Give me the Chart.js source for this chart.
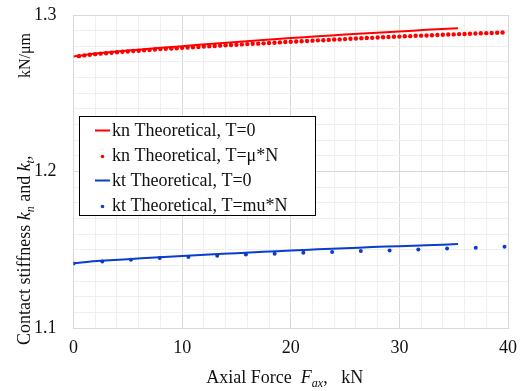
<!DOCTYPE html>
<html>
<head>
<meta charset="utf-8">
<script src="https://cdn.jsdelivr.net/npm/chart.js@4.4.1/dist/chart.umd.min.js"></script>
<style>
  html, body { margin: 0; padding: 0; background: #fff; }
  #stiff { display: block; }
</style>
</head>
<body>
<canvas id="stiff" width="523" height="391"></canvas>
<script>
// axial force for the theoretical curves (kN)
const forceLine = [0, 1, 2.5, 5, 7.5, 10, 12.5, 15, 17.5, 20, 22.5, 25, 27.5, 30, 32.5, 35.4];
const knLine = [1.2735, 1.2745, 1.2757, 1.2773, 1.2787, 1.2801, 1.2815, 1.2828, 1.2841, 1.2853, 1.2864, 1.2875, 1.2885, 1.2895, 1.2905, 1.2916];
const ktLine = [1.1412, 1.1420, 1.1429, 1.1440, 1.1450, 1.1460, 1.1470, 1.1478, 1.1487, 1.1495, 1.1503, 1.1510, 1.1517, 1.1523, 1.1529, 1.1536];

// kn with T=mu*N, dotted
const forceKnDots = [0.5, 1, 1.5, 2, 2.5, 3, 3.5, 4, 4.5, 5, 5.5, 6, 6.5, 7, 7.5, 8, 8.5, 9, 9.5, 10,
  10.5, 11, 11.5, 12, 12.5, 13, 13.5, 14, 14.5, 15, 15.5, 16, 16.5, 17, 17.5, 18, 18.5, 19, 19.5, 20,
  20.5, 21, 21.5, 22, 22.5, 23, 23.5, 24, 24.5, 25, 25.5, 26, 26.5, 27, 27.5, 28, 28.5, 29, 29.5, 30,
  30.5, 31, 31.5, 32, 32.5, 33, 33.5, 34, 34.5, 35, 35.5, 36, 36.5, 37, 37.5, 38, 38.5, 39, 39.5];
const knDots = [1.2737, 1.2742, 1.2746, 1.2750, 1.2753, 1.2756, 1.2759, 1.2762, 1.2765, 1.2767,
  1.2770, 1.2772, 1.2775, 1.2777, 1.2780, 1.2782, 1.2784, 1.2786, 1.2788, 1.2790,
  1.2792, 1.2794, 1.2796, 1.2798, 1.2800, 1.2802, 1.2804, 1.2806, 1.2808, 1.2810,
  1.2812, 1.2814, 1.2816, 1.2817, 1.2819, 1.2821, 1.2823, 1.2825, 1.2827, 1.2829,
  1.2831, 1.2832, 1.2834, 1.2836, 1.2838, 1.2839, 1.2841, 1.2843, 1.2844, 1.2846,
  1.2848, 1.2850, 1.2851, 1.2853, 1.2854, 1.2856, 1.2858, 1.2859, 1.2861, 1.2862,
  1.2864, 1.2865, 1.2867, 1.2868, 1.2869, 1.2871, 1.2872, 1.2874, 1.2875, 1.2876,
  1.2878, 1.2879, 1.2880, 1.2882, 1.2883, 1.2884, 1.2885, 1.2887, 1.2888];

// kt with T=mu*N, dotted
const forceKtDots = [0, 2.65, 5.29, 7.94, 10.58, 13.23, 15.87, 18.52, 21.16, 23.81, 26.45, 29.1, 31.74, 34.39, 37.03, 39.68];
const ktDots = [1.1412, 1.1425, 1.1436, 1.1447, 1.1453, 1.1462, 1.1470, 1.1474, 1.1481, 1.1485, 1.1492, 1.1495, 1.1502, 1.1508, 1.1513, 1.1519];

const xTickLabels = [0, 10, 20, 30, 40];
const yTickLabels = [1.1, 1.2, 1.3];

const FONT = "'Liberation Serif', 'Times New Roman', serif";
const RED = '#ff0000';
const BLUE = '#0a3ccf';

function pts(xs, ys) {
  return xs.map((x, i) => ({x: x, y: ys[i]}));
}
function near(v, list) {
  return list.some(t => Math.abs(t - v) < 1e-6);
}

// mixed-font text: plain, italic and subscript runs, drawn from the left
function drawRuns(ctx, runs, x, y, size) {
  const fontOf = r => (r.italic ? 'italic ' : '') + Math.round(r.sub ? size * 0.66 : size) + 'px ' + FONT;
  let cx = x;
  ctx.textAlign = 'left';
  ctx.textBaseline = 'alphabetic';
  runs.forEach(r => {
    ctx.font = fontOf(r);
    ctx.fillText(r.t, cx, y + (r.sub ? 4 : 0));
    cx += ctx.measureText(r.t).width;
  });
}
function runsWidth(ctx, runs, size) {
  let w = 0;
  runs.forEach(r => {
    ctx.font = (r.italic ? 'italic ' : '') + Math.round(r.sub ? size * 0.66 : size) + 'px ' + FONT;
    w += ctx.measureText(r.t).width;
  });
  return w;
}

const xTitle = [{t: 'Axial Force  '}, {t: 'F', italic: true}, {t: 'ax', italic: true, sub: true}, {t: ',   kN'}];
const yTitle = [{t: 'Contact stiffness '}, {t: 'k', italic: true}, {t: 'n', italic: true, sub: true},
  {t: ' and '}, {t: 'k', italic: true}, {t: 't', italic: true, sub: true}, {t: ',', italic: true}];
const yUnit = 'kN/\u03bcm';

const titlePlugin = {
  id: 'titles',
  afterDraw(chart) {
    const ctx = chart.ctx;
    const a = chart.chartArea;
    ctx.save();
    ctx.fillStyle = '#111';
    const w = runsWidth(ctx, xTitle, 18);
    drawRuns(ctx, xTitle, (a.left + a.right) / 2 - 6 - w / 2, 383, 18);
    ctx.translate(30, 345);
    ctx.rotate(-Math.PI / 2);
    drawRuns(ctx, yTitle, 0, 0, 18);
    ctx.font = '16px ' + FONT;
    ctx.textAlign = 'right';
    ctx.fillText(yUnit, 312, 0);
    ctx.restore();
  }
};

const legendPlugin = {
  id: 'boxLegend',
  afterDraw(chart) {
    const ctx = chart.ctx;
    const bx = 79.5, by = 116.5, bw = 236, bh = 99;
    ctx.save();
    ctx.fillStyle = '#fff';
    ctx.fillRect(bx, by, bw, bh);
    ctx.strokeStyle = '#000';
    ctx.lineWidth = 1;
    ctx.strokeRect(bx, by, bw, bh);
    ctx.font = '18px ' + FONT;
    ctx.textBaseline = 'middle';
    ctx.textAlign = 'left';
    chart.data.datasets.forEach((ds, i) => {
      const y = by + 14 + i * 25;
      if (ds.showLine) {
        ctx.strokeStyle = ds.borderColor;
        ctx.lineWidth = 2;
        ctx.beginPath();
        ctx.moveTo(95, y);
        ctx.lineTo(110, y);
        ctx.stroke();
      } else {
        ctx.fillStyle = ds.backgroundColor;
        ctx.beginPath();
        ctx.arc(102.5, y + 1, 1.8, 0, Math.PI * 2);
        ctx.fill();
      }
      ctx.fillStyle = '#111';
      ctx.fillText(ds.label, 112, y + 1);
    });
    ctx.restore();
  }
};

new Chart(document.getElementById('stiff'), {
  type: 'scatter',
  data: {
    datasets: [
      {label: 'kn Theoretical, T=0', data: pts(forceLine, knLine), showLine: true,
        borderColor: RED, backgroundColor: RED, borderWidth: 2, pointRadius: 0, tension: 0.3},
      {label: 'kn Theoretical, T=\u03bc*N', data: pts(forceKnDots, knDots), showLine: false,
        borderColor: RED, backgroundColor: RED, pointRadius: 2.2, borderWidth: 0},
      {label: 'kt Theoretical, T=0', data: pts(forceLine, ktLine), showLine: true,
        borderColor: BLUE, backgroundColor: BLUE, borderWidth: 2, pointRadius: 0, tension: 0.3},
      {label: 'kt Theoretical, T=mu*N', data: pts(forceKtDots, ktDots), showLine: false,
        borderColor: BLUE, backgroundColor: BLUE, pointRadius: 2, borderWidth: 0}
    ]
  },
  options: {
    responsive: false,
    animation: false,
    events: [],
    layout: {padding: {left: 0, right: 15, top: 15, bottom: 0}},
    plugins: {legend: {display: false}, tooltip: {enabled: false}},
    scales: {
      x: {
        type: 'linear', min: 0, max: 40,
        afterFit(s) { s.height = 63; s.paddingLeft = 0; s.paddingRight = 0; },
        border: {color: '#d9d9d9', width: 1},
        grid: {
          drawTicks: false,
          color: c => near(c.tick.value, xTickLabels) ? '#d9d9d9' : '#efefef'
        },
        ticks: {
          stepSize: 2, autoSkip: false, maxRotation: 0, padding: 9, color: '#111',
          font: {family: FONT, size: 18},
          callback: v => near(v, xTickLabels) ? String(Math.round(v)) : ''
        }
      },
      y: {
        type: 'linear', min: 1.1, max: 1.3,
        afterFit(s) { s.width = 73.5; s.paddingTop = 0; s.paddingBottom = 0; },
        border: {color: '#d9d9d9', width: 1},
        grid: {
          drawTicks: false,
          color: c => near(c.tick.value, yTickLabels) ? '#d9d9d9' : '#efefef'
        },
        ticks: {
          stepSize: 0.01, autoSkip: false, padding: 17, color: '#111',
          font: {family: FONT, size: 18},
          callback: v => near(v, yTickLabels) ? v.toFixed(1) : ''
        }
      }
    }
  },
  plugins: [titlePlugin, legendPlugin]
});
</script>
</body>
</html>
